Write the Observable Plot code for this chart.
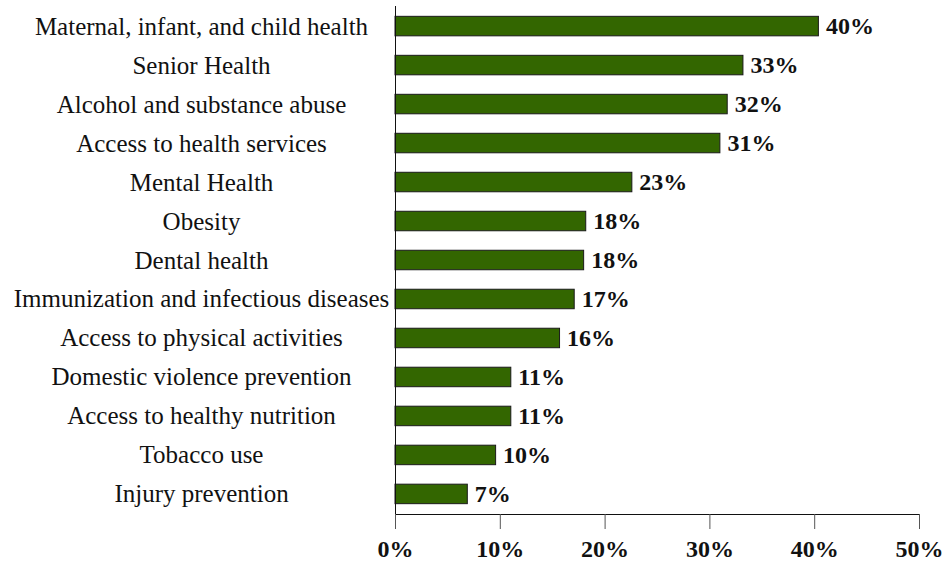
<!DOCTYPE html>
<html><head><meta charset="utf-8">
<script src="https://cdn.jsdelivr.net/npm/d3@7"></script>
<script src="https://cdn.jsdelivr.net/npm/@observablehq/plot@0.6"></script>
<style>body{margin:0;background:#fff}</style>
</head><body><div id="chart"></div>
<script>
const categories = [
  "Maternal, infant, and child health",
  "Senior Health",
  "Alcohol and substance abuse",
  "Access to health services",
  "Mental Health",
  "Obesity",
  "Dental health",
  "Immunization and infectious diseases",
  "Access to physical activities",
  "Domestic violence prevention",
  "Access to healthy nutrition",
  "Tobacco use",
  "Injury prevention"
];
const values = [40.4, 33.2, 31.7, 31.0, 22.6, 18.2, 18.0, 17.1, 15.7, 11.05, 11.05, 9.6, 6.9];
const valueLabels = ["40%", "33%", "32%", "31%", "23%", "18%", "18%", "17%", "16%", "11%", "11%", "10%", "7%"];
const xTicks = [0, 10, 20, 30, 40, 50];
const xTickLabels = ["0%", "10%", "20%", "30%", "40%", "50%"];

const rows = categories.map((c, i) => ({category: c, value: values[i], label: valueLabels[i]}));

const chart = Plot.plot({
  width: 947, height: 561,
  marginLeft: 395, marginRight: 28, marginTop: 6, marginBottom: 47,
  style: {fontFamily: "'Liberation Serif', serif", background: "#fff", color: "#111"},
  x: {domain: [0, 50], ticks: xTicks},
  y: {domain: categories, paddingInner: 0.5, paddingOuter: 0.265, round: false},
  marks: [
    Plot.barX(rows, {x: "value", y: "category", fill: "#336600", stroke: "#1a1a1a", strokeWidth: 1}),
    Plot.text(rows, {x: "value", y: "category", text: "label", textAnchor: "start", dx: 7, fontSize: 24, fontWeight: "bold", fill: "#111"}),
    Plot.frame({anchor: "left", stroke: "#111"}),
    Plot.frame({anchor: "bottom", stroke: "#111"}),
    Plot.axisX({ticks: xTicks, tickFormat: d => xTickLabels[xTicks.indexOf(d)], tickSize: 15, tickPadding: 10, fontSize: 24, fontWeight: "bold", stroke: "#555", label: null}),
    Plot.axisY({tickSize: 0, tickPadding: 194, textAnchor: "middle", fontSize: 25, label: null})
  ]
});
document.getElementById("chart").appendChild(chart);
</script>
</body></html>
